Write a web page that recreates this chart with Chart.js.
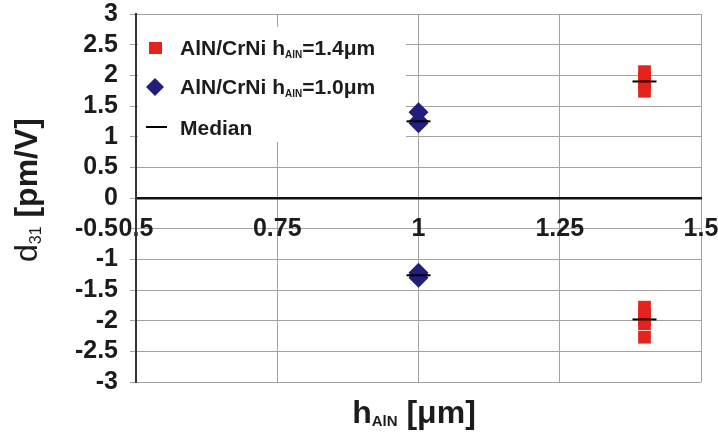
<!DOCTYPE html>
<html><head><meta charset="utf-8">
<script src="https://cdn.jsdelivr.net/npm/chart.js@4/dist/chart.umd.min.js"></script>
<style>html,body{margin:0;padding:0;background:#fff}#wrap{width:718px;height:439px;position:relative}</style>
</head><body><div id="wrap"><canvas id="c" width="718" height="439"></canvas></div>
<script>
// ---- data ----
const xTickValues = [0.5, 0.75, 1, 1.25, 1.5];
const yTickValues = [-3, -2.5, -2, -1.5, -1, -0.5, 0, 0.5, 1, 1.5, 2, 2.5, 3];
const thicknessA = 1.4;   // h_AlN = 1.4 µm
const thicknessB = 1.0;   // h_AlN = 1.0 µm
const d31_A = [2.06, 1.95, 1.9, 1.85, 1.74, -1.78, -1.9, -1.98, -2.05, -2.27];
const d31_B = [1.40, 1.25, 1.22, -1.22, -1.26, -1.30];
const medianX = [1.4, 1.4, 1.0, 1.0];
const medianY = [1.9, -1.98, 1.25, -1.26];
const legendMain = ['AlN/CrNi h', 'AlN/CrNi h', 'Median'];
const legendSub  = ['AlN', 'AlN', ''];
const legendRest = ['=1.4\u03bcm', '=1.0\u03bcm', ''];
const xTitle = ['h', 'AlN', ' [\u03bcm]'];
const yTitle = ['d', '31', ' [pm/V]'];

const RED = '#e3231c', BLUE = '#231e7c', GRID = '#a3a3a3', TXT = '#1c1c1c';
const FF = '"Liberation Sans", Arial, sans-serif';

function drawParts(ctx, parts, x, y, align) {
  let total = 0;
  parts.forEach(p => { ctx.font = p.f; p.w = ctx.measureText(p.t).width; total += p.w; });
  let cx = align === 'center' ? x - total / 2 : x;
  ctx.textBaseline = 'alphabetic'; ctx.textAlign = 'left';
  parts.forEach(p => { ctx.font = p.f; ctx.fillText(p.t, cx, y + (p.dy || 0)); cx += p.w; });
}

const customPlugin = {
  id: 'custom',
  beforeDatasetsDraw(chart) {
    const {ctx, chartArea} = chart;
    ctx.save();
    ctx.fillStyle = '#fff';
    ctx.fillRect(chartArea.left + 2, 27, 268, 115);
    ctx.restore();
  },
  afterDraw(chart) {
    const {ctx} = chart;
    ctx.save();
    ctx.fillStyle = TXT;
    // legend
    const rowsY = [55, 94, 135];
    for (let i = 0; i < 3; i++) {
      const parts = [{t: legendMain[i], f: 'bold 21px ' + FF}];
      if (legendSub[i]) parts.push({t: legendSub[i], f: 'bold 10px ' + FF, dy: 3});
      if (legendRest[i]) parts.push({t: legendRest[i], f: 'bold 21px ' + FF});
      drawParts(ctx, parts, 180, rowsY[i], 'left');
    }
    // legend markers
    ctx.fillStyle = RED; ctx.fillRect(149, 42, 13, 12);
    ctx.fillStyle = BLUE; ctx.beginPath();
    ctx.moveTo(155, 78); ctx.lineTo(164, 87); ctx.lineTo(155, 96); ctx.lineTo(146, 87); ctx.closePath(); ctx.fill();
    ctx.strokeStyle = '#000'; ctx.lineWidth = 2; ctx.beginPath();
    ctx.moveTo(146, 127); ctx.lineTo(167, 127); ctx.stroke();
    // x title
    ctx.fillStyle = TXT;
    drawParts(ctx, [
      {t: xTitle[0], f: 'bold 32px ' + FF},
      {t: xTitle[1], f: 'bold 15px ' + FF, dy: 3},
      {t: xTitle[2], f: 'bold 32px ' + FF}
    ], 414, 423, 'center');
    // y title
    ctx.translate(37, 190); ctx.rotate(-Math.PI / 2);
    drawParts(ctx, [
      {t: yTitle[0], f: '32px ' + FF},
      {t: yTitle[1], f: '16px ' + FF, dy: 4},
      {t: yTitle[2], f: 'bold 32px ' + FF}
    ], 0, 0, 'center');
    ctx.restore();
  }
};

new Chart(document.getElementById('c'), {
  type: 'scatter',
  data: {
    datasets: [
      {
        label: 'Median', order: 0,
        data: medianX.map((x, i) => ({x, y: medianY[i]})),
        pointStyle: 'line', pointRadius: 12, borderColor: '#000', borderWidth: 2, backgroundColor: '#000'
      },
      {
        label: 'AlN/CrNi hAlN=1.4\u03bcm', order: 1,
        data: d31_A.map(y => ({x: thicknessA, y})),
        pointStyle: 'rect', pointRadius: 9, backgroundColor: RED, borderWidth: 0, borderColor: RED
      },
      {
        label: 'AlN/CrNi hAlN=1.0\u03bcm', order: 1,
        data: d31_B.map(y => ({x: thicknessB, y})),
        pointStyle: 'rectRot', pointRadius: 10, backgroundColor: BLUE, borderWidth: 0, borderColor: BLUE
      }
    ]
  },
  options: {
    responsive: false, animation: false, events: [],
    layout: {padding: {left: 0, right: 17, top: 13, bottom: 57}},
    plugins: {legend: {display: false}, tooltip: {enabled: false}},
    scales: {
      x: {
        type: 'linear', position: {y: 0}, min: 0.5, max: 1.5,
        afterFit: s => { s.paddingLeft = 0; s.paddingRight = 0; s.paddingTop = 0; s.paddingBottom = 0; s.height = 0; },
        afterBuildTicks: s => { s.ticks = xTickValues.map(v => ({value: v})); },
        ticks: {autoSkip: false, maxRotation: 0, padding: 19, color: TXT,
          font: {family: FF, size: 25, weight: 'bold', lineHeight: 1.0},
          callback: v => String(v)},
        grid: {color: GRID, lineWidth: 1, drawTicks: false},
        border: {display: true, color: '#111', width: 2.5}
      },
      y: {
        type: 'linear', min: -3, max: 3,
        afterFit: s => { s.width = 136; s.paddingTop = 0; s.paddingBottom = 0; s.paddingLeft = 0; s.paddingRight = 0; },
        afterBuildTicks: s => { s.ticks = yTickValues.map(v => ({value: v})); },
        ticks: {autoSkip: false, padding: 12, color: TXT,
          font: {family: FF, size: 25, weight: 'bold', lineHeight: 1.0},
          callback: v => String(v)},
        grid: {color: GRID, lineWidth: 1, tickLength: 6},
        border: {display: true, color: '#333', width: 2}
      }
    }
  },
  plugins: [customPlugin]
});
</script>
</body></html>
